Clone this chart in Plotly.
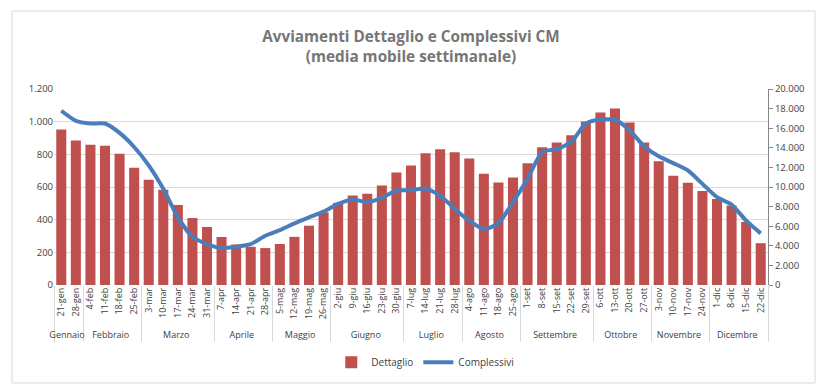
import plotly.graph_objects as go

weeks = ["21-gen", "28-gen", "4-feb", "11-feb", "18-feb", "25-feb",
         "3-mar", "10-mar", "17-mar", "24-mar", "31-mar",
         "7-apr", "14-apr", "21-apr", "28-apr",
         "5-mag", "12-mag", "19-mag", "26-mag",
         "2-giu", "9-giu", "16-giu", "23-giu", "30-giu",
         "7-lug", "14-lug", "21-lug", "28-lug",
         "4-ago", "11-ago", "18-ago", "25-ago",
         "1-set", "8-set", "15-set", "22-set", "29-set",
         "6-ott", "13-ott", "20-ott", "27-ott",
         "3-nov", "10-nov", "17-nov", "24-nov",
         "1-dic", "8-dic", "15-dic", "22-dic"]

month_names = ["Gennaio", "Febbraio", "Marzo", "Aprile", "Maggio", "Giugno",
               "Luglio", "Agosto", "Settembre", "Ottobre", "Novembre", "Dicembre"]
weeks_per_month = [2, 4, 5, 4, 4, 5, 4, 4, 5, 4, 4, 4]

dettaglio = [952, 884, 859, 853, 804, 718,
             644, 583, 490, 410, 355,
             294, 248, 234, 226,
             251, 295, 363, 445,
             503, 548, 558, 609, 689,
             732, 806, 831, 812,
             775, 681, 628, 658,
             745, 843, 872, 917, 1001,
             1056, 1081, 995, 872,
             757, 669, 626, 576,
             526, 486, 386, 256]

complessivi = [17780, 16750, 16480, 16480, 15520, 14085,
               12205, 9810, 6905, 4920, 4170,
               3760, 3900, 4170, 5025,
               5600, 6290, 6905, 7490,
               8275, 8720, 8450, 8890, 9640,
               9680, 9850, 9130, 7760,
               6565, 5710, 6290, 8450,
               10840, 13570, 13850, 14600, 16480,
               16890, 16860, 15800, 14150,
               13130, 12440, 11690, 10320,
               8960, 8210, 6565, 5265]

months = [m for m, n in zip(month_names, weeks_per_month) for _ in range(n)]
x = [months, weeks]

FONT = "Open Sans"
TXT = "#404040"

fig = go.Figure()
fig.add_trace(go.Bar(x=x, y=dettaglio, name="Dettaglio",
                     marker=dict(color="#C0504D", line=dict(width=0))))
fig.add_trace(go.Scatter(x=x, y=complessivi, name="Complessivi", yaxis="y2",
                         mode="lines", line=dict(color="#4A7EBB", width=4, shape="spline", smoothing=0.6)))

fig.update_layout(
    width=823, height=391,
    margin=dict(l=54, r=55, t=89, b=106),
    paper_bgcolor="white", plot_bgcolor="white",
    separators=",.",
    font=dict(family=FONT, size=10, color=TXT),
    bargap=0.31,
    title=dict(text="<b>Avviamenti Dettaglio e Complessivi CM<br>(media mobile settimanale)</b>",
               x=0.5, xref="paper", y=1 - 42/391, yref="container", yanchor="middle",
               font=dict(family=FONT, size=15.3, color="#767676")),
    xaxis=dict(type="multicategory", tickangle=-90, showgrid=False,
               tickfont=dict(size=9, color=TXT),
               showdividers=True, dividercolor="#d9d9d9", dividerwidth=1,
               showline=False, ticks=""),
    yaxis=dict(range=[0, 1200], dtick=200, tickformat=",", showgrid=True,
               gridcolor="#d9d9d9", gridwidth=1, zeroline=False, showline=False,
               ticks="", tickfont=dict(size=9.5, color=TXT)),
    yaxis2=dict(range=[0, 20000], dtick=2000, tickformat=",", overlaying="y", side="right",
                showgrid=False, zeroline=False, showline=True, linecolor="#868686",
                ticks="outside", ticklen=4, tickcolor="#868686",
                tickfont=dict(size=9.5, color=TXT)),
    legend=dict(orientation="h", x=0.52, xanchor="center", y=-0.394, yanchor="middle",
                font=dict(size=10, color=TXT)),
    shapes=[dict(type="rect", xref="paper", yref="paper",
                 x0=-42/714, x1=1 + 47/714, y0=-98/196, y1=1 + 78/196,
                 line=dict(color="#d9d9d9", width=1), fillcolor="rgba(0,0,0,0)", layer="below")],
)

fig.write_html("out.html", config={"displayModeBar": False},
               post_script="document.body.style.margin='0';")
